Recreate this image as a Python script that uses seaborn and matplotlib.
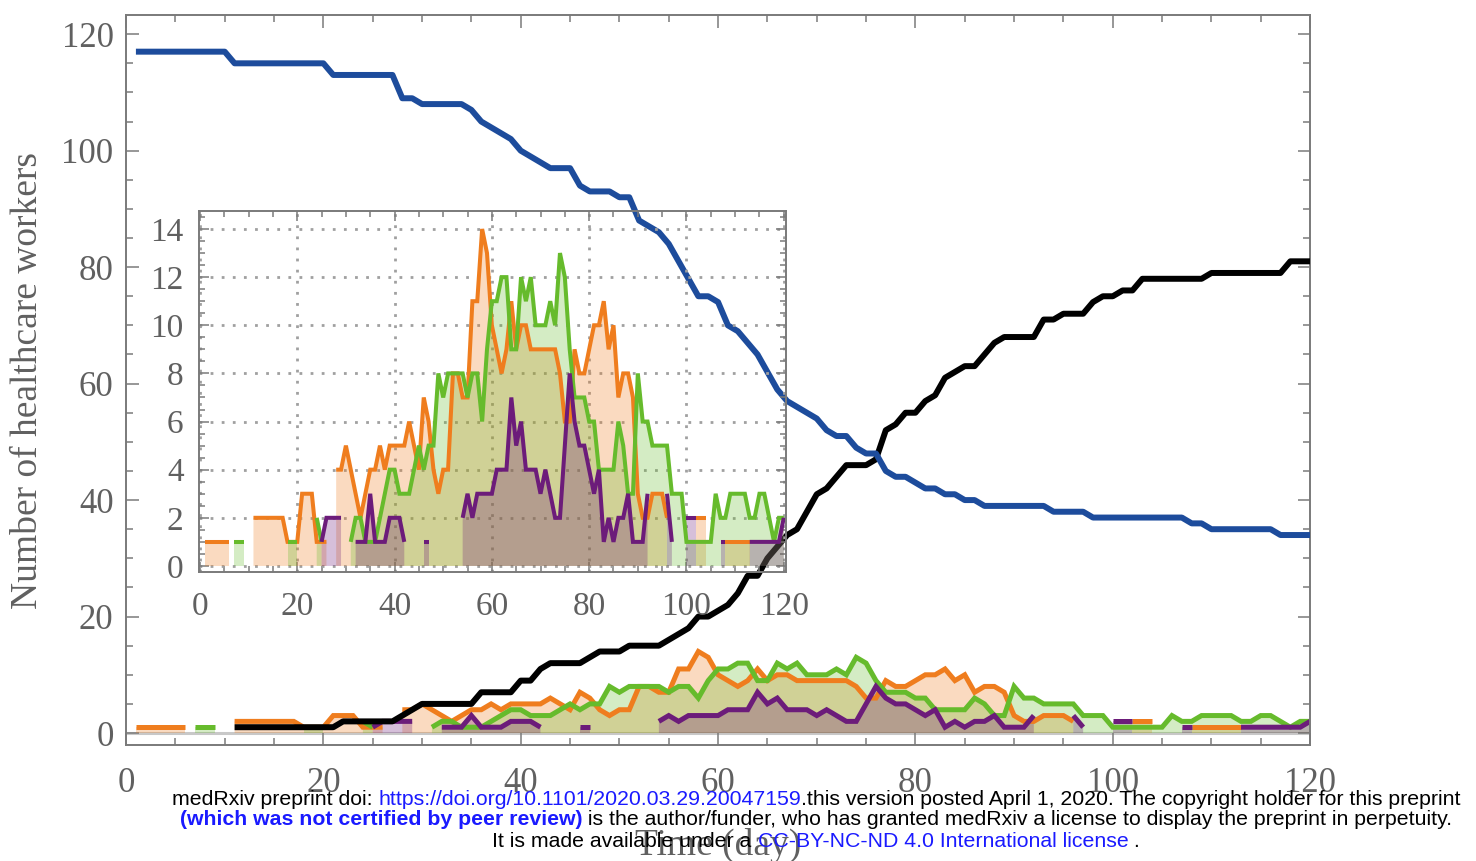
import numpy as np
import pandas as pd
import matplotlib
matplotlib.use("Agg")
import matplotlib.pyplot as plt
import seaborn as sns
from matplotlib.ticker import MultipleLocator

# daily counts (0 = nothing drawn that day)
days = np.arange(1, 121)

susceptible = [117, 117, 117, 117, 117, 117, 117, 117, 117, 117, 115, 115, 115, 115, 115, 115, 115, 115, 115, 115,
               113, 113, 113, 113, 113, 113, 113, 109, 109, 108, 108, 108, 108, 108, 107, 105, 104, 103, 102, 100,
               99, 98, 97, 97, 97, 94, 93, 93, 93, 92, 92, 88, 87, 86, 84, 81, 78, 75, 75, 74,
               70, 69, 67, 65, 62, 59, 57, 56, 55, 54, 52, 51, 51, 49, 48, 48, 45, 44, 44, 43,
               42, 42, 41, 41, 40, 40, 39, 39, 39, 39, 39, 39, 39, 38, 38, 38, 38, 37, 37, 37,
               37, 37, 37, 37, 37, 37, 37, 36, 36, 35, 35, 35, 35, 35, 35, 35, 34, 34, 34, 34]

recovered = [0, 0, 0, 0, 0, 0, 0, 0, 0, 0, 1, 1, 1, 1, 1, 1, 1, 1, 1, 1,
             1, 2, 2, 2, 2, 2, 2, 3, 4, 5, 5, 5, 5, 5, 5, 7, 7, 7, 7, 9,
             9, 11, 12, 12, 12, 12, 13, 14, 14, 14, 15, 15, 15, 15, 16, 17, 18, 20, 20, 21,
             22, 24, 27, 27, 30, 32, 34, 35, 38, 41, 42, 44, 46, 46, 46, 47, 52, 53, 55, 55,
             57, 58, 61, 62, 63, 63, 65, 67, 68, 68, 68, 68, 71, 71, 72, 72, 72, 74, 75, 75,
             76, 76, 78, 78, 78, 78, 78, 78, 78, 79, 79, 79, 79, 79, 79, 79, 79, 81, 81, 81]

orange_vals = [1, 1, 1, 1, 1, 1, 0, 0, 0, 0, 2, 2, 2, 2, 2, 2, 2, 1, 1, 1,
               3, 3, 3, 1, 1, 1, 0, 4, 4, 5, 4, 3, 2, 3, 4, 4, 5, 4, 5, 5,
               5, 5, 6, 5, 4, 7, 6, 4, 3, 4, 4, 8, 8, 7, 7, 11, 11, 14, 13, 10,
               9, 8, 9, 11, 9, 10, 10, 9, 9, 9, 9, 9, 9, 8, 6, 6, 9, 8, 8, 9,
               10, 10, 11, 9, 10, 7, 8, 8, 7, 3, 2, 2, 3, 3, 3, 2, 0, 0, 0, 0,
               0, 2, 2, 2, 0, 0, 0, 1, 1, 1, 1, 1, 1, 0, 0, 0, 0, 0, 0, 0]

green_vals = [0, 0, 0, 0, 0, 0, 1, 1, 1, 0, 0, 0, 0, 0, 0, 0, 0, 1, 1, 1,
              0, 0, 0, 2, 1, 0, 0, 0, 0, 0, 1, 2, 2, 1, 1, 1, 2, 3, 4, 4,
              3, 3, 3, 4, 5, 4, 5, 5, 8, 7, 8, 8, 8, 8, 7, 8, 8, 6, 9, 11,
              11, 12, 12, 9, 9, 12, 11, 12, 10, 10, 10, 11, 10, 13, 12, 9, 7, 7, 7, 6,
              6, 4, 4, 4, 4, 6, 5, 3, 3, 8, 6, 6, 5, 5, 5, 5, 3, 3, 3, 1,
              1, 1, 1, 1, 1, 3, 2, 2, 3, 3, 3, 3, 2, 2, 3, 3, 2, 1, 2, 2]

purple_vals = [0, 0, 0, 0, 0, 0, 0, 0, 0, 0, 0, 0, 0, 0, 0, 0, 0, 0, 0, 0,
               0, 0, 0, 0, 1, 2, 2, 2, 2, 0, 0, 1, 1, 1, 3, 1, 1, 1, 2, 2,
               2, 1, 0, 0, 0, 1, 1, 0, 0, 0, 0, 0, 0, 2, 3, 2, 3, 3, 3, 3,
               4, 4, 4, 7, 5, 6, 4, 4, 4, 3, 4, 3, 2, 2, 5, 8, 6, 5, 5, 4,
               3, 4, 1, 2, 1, 2, 2, 3, 1, 1, 1, 3, 0, 0, 0, 3, 1, 0, 0, 2,
               2, 2, 0, 0, 0, 0, 1, 1, 0, 0, 0, 0, 1, 1, 1, 1, 1, 1, 1, 2]

c_blue = '#1d4c9c'
c_black = '#000000'
groups = [(orange_vals, '#ef7d1e'), (green_vals, '#66bb2c'), (purple_vals, '#6c1c7a')]

sns.set_style("ticks")
plt.rcParams['font.family'] = ['Liberation Serif', 'DejaVu Serif']
frame_c = '#7a7a7a'
label_c = '#606060'


def segments(vals):
    # zero days are left out, so lines break there like in the original
    df = pd.DataFrame({'day': days, 'val': np.asarray(vals, dtype=float)})
    df = df[df['val'] > 0].copy()
    df['seg'] = (df['day'].diff() != 1).cumsum()
    return df


def draw_groups(ax, lw):
    for vals, c in groups:
        v = np.asarray(vals, dtype=float)
        ax.fill_between(days, 0, np.where(v > 0, v, np.nan), color=c, alpha=0.28, lw=0, zorder=1)
    for vals, c in groups:
        sns.lineplot(data=segments(vals), x='day', y='val', units='seg', estimator=None,
                     color=c, lw=lw, ax=ax, legend=False, zorder=2,
                     solid_capstyle='butt', solid_joinstyle='miter')


def style_frame(ax, major_len, minor_len):
    for s in ax.spines.values():
        s.set_color(frame_c)
        s.set_linewidth(1.4)
    ax.tick_params(which='both', direction='in', top=True, right=True,
                   color=frame_c, width=1.1, labelcolor=label_c)
    ax.tick_params(which='major', length=major_len)
    ax.tick_params(which='minor', length=minor_len)
    ax.set_xlabel('')
    ax.set_ylabel('')


fig = plt.figure(figsize=(14.76, 8.61), dpi=100)

# main panel
ax = fig.add_axes([0.0854, 0.1347, 0.8022, 0.8479])
ax.axhline(0, color='#c8c8c8', lw=2.2, zorder=0.5)
draw_groups(ax, 3.6)
bk = pd.DataFrame({'day': days, 'val': recovered})
bk = bk[bk['val'] > 0]
sns.lineplot(data=bk, x='day', y='val', color=c_black, lw=4.3, ax=ax, zorder=3,
             solid_capstyle='butt')
sns.lineplot(x=days, y=susceptible, color=c_blue, lw=4.3, ax=ax, zorder=3,
             solid_capstyle='butt')
ax.set_xlim(0, 120)
ax.set_ylim(-2.06, 123.3)
ax.xaxis.set_major_locator(MultipleLocator(20))
ax.xaxis.set_minor_locator(MultipleLocator(5))
ax.yaxis.set_major_locator(MultipleLocator(20))
ax.yaxis.set_minor_locator(MultipleLocator(5))
style_frame(ax, 9, 5)
ax.tick_params(axis='x', pad=16, labelsize=25)
ax.tick_params(axis='y', pad=9, labelsize=25)
ax.set_ylabel('Number of healthcare workers', fontsize=27, color=label_c, labelpad=12)
ax.set_xlabel('Time (day)', fontsize=27, color=label_c, labelpad=20)

# inset
axi = fig.add_axes([0.1348, 0.3357, 0.3977, 0.4193])
axi.patch.set_alpha(0)
draw_groups(axi, 2.9)
axi.set_xlim(-0.2, 120.45)
axi.set_ylim(-0.25, 14.75)
axi.xaxis.set_major_locator(MultipleLocator(20))
axi.xaxis.set_minor_locator(MultipleLocator(5))
axi.yaxis.set_major_locator(MultipleLocator(2))
axi.yaxis.set_minor_locator(MultipleLocator(0.5))
axi.grid(True, which='major', color='#a0a0a0', lw=2.0, linestyle=(0, (1, 3)))
style_frame(axi, 7, 4)
axi.tick_params(axis='x', pad=14, labelsize=24)
axi.tick_params(axis='y', pad=11, labelsize=24)

# preprint notice printed over the bottom of the page
notice = [
    (0.0718, [("medRxiv preprint doi: ", 'black', 'normal'),
              ("https://doi.org/10.1101/2020.03.29.20047159", '#1a1aff', 'normal'),
              (".this version posted April 1, 2020. The copyright holder for this preprint", 'black', 'normal')]),
    (0.0478, [("(which was not certified by peer review)", '#1a1aff', 'bold'),
              (" is the author/funder, who has granted medRxiv a license to display the preprint in perpetuity.", 'black', 'normal')]),
    (0.0225, [("It is made available under a ", 'black', 'normal'),
              ("CC-BY-NC-ND 4.0 International license", '#1a1aff', 'normal'),
              (" .", 'black', 'normal')]),
]
renderer = fig.canvas.get_renderer()
for y, pieces in notice:
    texts = []
    total = 0
    for s, c, w in pieces:
        t = fig.text(0, y, s, color=c, fontweight=w, fontsize=15.3, va='center',
                     family=['Liberation Sans', 'DejaVu Sans'])
        wd = t.get_window_extent(renderer).width / fig.bbox.width
        texts.append((t, wd))
        total += wd
    x = 0.553 - total / 2
    for t, wd in texts:
        t.set_x(x)
        x += wd

fig.savefig('out.png', dpi=100)
